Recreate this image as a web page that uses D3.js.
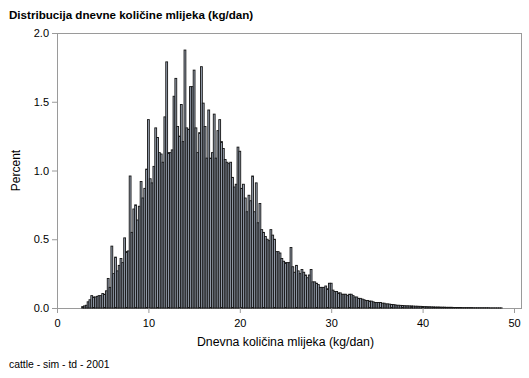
<!DOCTYPE html>
<html>
<head>
<meta charset="utf-8">
<script src="https://cdn.jsdelivr.net/npm/d3@7"></script>
<style>
  html, body { margin: 0; padding: 0; background: #fff; }
  svg { display: block; font-family: "Liberation Sans", Arial, sans-serif; }
</style>
</head>
<body>
<svg id="chart" width="529" height="378"></svg>
<script>
// histogram of daily milk yield, bins 0.2 kg wide, first bin centred at 2.8
const binFirst = 2.8;
const binWidth = 0.2;
const percent = [
  0.01, 0.015, 0.02, 0.045, 0.06, 0.09, 0.08, 0.08, 0.085, 0.09,      // 2.8 - 4.6
  0.09, 0.105, 0.10, 0.125, 0.215, 0.15, 0.45, 0.25, 0.37, 0.27,      // 4.8 - 6.6
  0.31, 0.36, 0.33, 0.51, 0.41, 0.415, 0.96, 0.55, 0.72, 0.75,        // 6.8 - 8.6
  0.64, 0.74, 0.92, 0.80, 0.87, 1.01, 1.37, 0.94, 0.91, 1.03,         // 8.8 - 10.6
  1.31, 1.24, 1.13, 1.12, 1.06, 1.39, 1.79, 1.13, 1.13, 1.15,         // 10.8 - 12.6
  1.54, 1.67, 1.32, 1.25, 1.48, 1.21, 1.876, 1.31, 1.30, 1.61,        // 12.8 - 14.6
  1.61, 1.73, 1.31, 1.13, 1.275, 1.755, 1.49, 1.32, 1.09, 1.44,       // 14.8 - 16.6
  1.09, 1.13, 1.41, 1.09, 1.29, 1.37, 1.21, 1.16, 1.08, 1.06,         // 16.8 - 18.6
  1.05, 1.06, 0.95, 0.88, 0.90, 1.17, 1.14, 0.87, 0.90, 0.80,         // 18.8 - 20.6
  0.70, 0.82, 0.78, 0.96, 0.70, 0.91, 0.62, 0.76, 0.57, 0.55,         // 20.8 - 22.6
  0.52, 0.50, 0.49, 0.57, 0.53, 0.50, 0.41, 0.41, 0.40, 0.36,         // 22.8 - 24.6
  0.34, 0.33, 0.33, 0.33, 0.44, 0.30, 0.26, 0.31, 0.27, 0.25,         // 24.8 - 26.6
  0.28, 0.26, 0.24, 0.22, 0.24, 0.28, 0.19, 0.19, 0.18, 0.17,         // 26.8 - 28.6
  0.15, 0.15, 0.15, 0.16, 0.14, 0.18, 0.18, 0.13, 0.12, 0.12,         // 28.8 - 30.6
  0.11, 0.11, 0.10, 0.10, 0.10, 0.09, 0.10, 0.10, 0.09, 0.08,         // 30.8 - 32.6
  0.08, 0.07, 0.07, 0.065, 0.06, 0.055, 0.055, 0.05, 0.05, 0.045,     // 32.8 - 34.6
  0.04, 0.04, 0.04, 0.04, 0.035, 0.035, 0.03, 0.03, 0.028, 0.026,     // 34.8 - 36.6
  0.025, 0.023, 0.02, 0.02, 0.019, 0.018, 0.017, 0.016, 0.016, 0.015, // 36.8 - 38.6
  0.015, 0.014, 0.013, 0.013, 0.012, 0.012, 0.011, 0.01, 0.01, 0.009, // 38.8 - 40.6
  0.009, 0.008, 0.008, 0.007, 0.007, 0.007, 0.006, 0.006, 0.006, 0.005, // 40.8 - 42.6
  0.005, 0.005, 0.005, 0.004, 0.004, 0.004, 0.004, 0.004, 0.003, 0.003, // 42.8 - 44.6
  0.003, 0.003, 0.003, 0.003, 0.002, 0.002, 0.002, 0.002, 0.002, 0.002, // 44.8 - 46.6
  0.002, 0.002, 0.002, 0.001, 0.001, 0.001, 0.001, 0.001, 0.001, 0.001  // 46.8 - 48.6
];
const xTicks = [0, 10, 20, 30, 40, 50];
const yTicks = [0, 0.5, 1.0, 1.5, 2.0];

const titleText = "Distribucija dnevne količine mlijeka (kg/dan)";
const xLabel = "Dnevna količina mlijeka (kg/dan)";
const yLabel = "Percent";
const footText = "cattle - sim - td - 2001";

const svg = d3.select("#chart");
const plot = { left: 57, right: 521, top: 33, bottom: 308 };

const x = d3.scaleLinear().domain([0, 50]).range([plot.left, 514]);
const y = d3.scaleLinear().domain([0, 2]).range([plot.bottom, plot.top]);

const bins = percent.map((p, i) => {
    const mid = binFirst + i * binWidth;
    return { x0: mid - binWidth / 2, x1: mid + binWidth / 2, value: p };
});

// frame
svg.append("rect")
    .attr("x", plot.left + 0.5).attr("y", plot.top + 0.5)
    .attr("width", plot.right - plot.left).attr("height", plot.bottom - plot.top)
    .attr("fill", "none").attr("stroke", "#9a9a9a");

svg.append("g")
    .selectAll("rect")
    .data(bins)
    .join("rect")
    .attr("x", d => x(d.x0))
    .attr("y", d => y(d.value))
    .attr("width", d => x(d.x1) - x(d.x0))
    .attr("height", d => y(0) - y(d.value))
    .attr("fill", "#9ea8b8")
    .attr("stroke", "#151515")
    .attr("stroke-width", 0.9);

// axes
const yAxis = svg.append("g")
    .attr("transform", `translate(${plot.left},0)`)
    .call(d3.axisLeft(y).tickValues(yTicks).tickFormat(d3.format(".1f")).tickSize(5).tickPadding(3));
const xAxis = svg.append("g")
    .attr("transform", `translate(0,${plot.bottom})`)
    .call(d3.axisBottom(x).tickValues(xTicks).tickFormat(d3.format("d")).tickSize(5).tickPadding(6));

[yAxis, xAxis].forEach(g => {
    g.select(".domain").remove();
    g.selectAll("line").attr("stroke", "#9a9a9a");
    g.selectAll("text").attr("fill", "#000").attr("font-size", 11)
        .attr("font-family", "'Liberation Sans', Arial, sans-serif");
});

svg.append("text")
    .attr("x", 9).attr("y", 19)
    .attr("font-size", 11.6).attr("font-weight", "bold")
    .text(titleText);

svg.append("text")
    .attr("transform", `translate(20,${(plot.top + plot.bottom) / 2}) rotate(-90)`)
    .attr("text-anchor", "middle")
    .attr("font-size", 12)
    .text(yLabel);

svg.append("text")
    .attr("x", (x(0) + x(50)) / 2).attr("y", 346)
    .attr("text-anchor", "middle")
    .attr("font-size", 12.3)
    .text(xLabel);

svg.append("text")
    .attr("x", 9).attr("y", 368)
    .attr("font-size", 10.4)
    .text(footText);
</script>
</body>
</html>
